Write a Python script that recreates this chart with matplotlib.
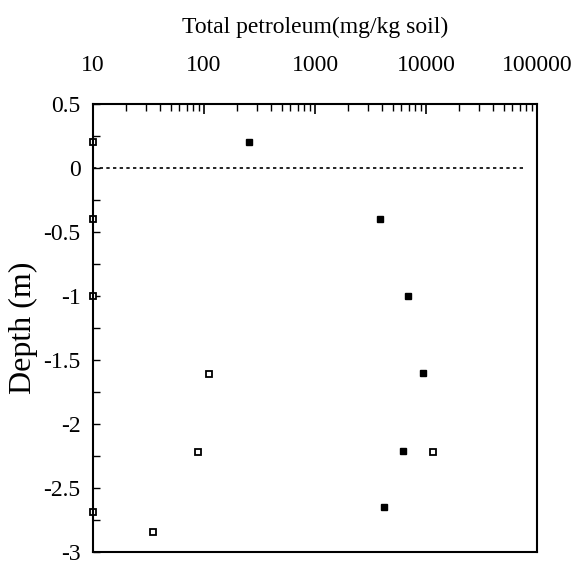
import numpy as np
import matplotlib.pyplot as plt
from matplotlib.ticker import LogLocator, FixedLocator, NullFormatter

plt.rcParams['font.family'] = ['Liberation Serif', 'DejaVu Serif']

# filled squares
filled_x = [254, 3850, 6900, 9400, 6200, 4150]
filled_depth = [0.2, -0.4, -1.0, -1.6, -2.21, -2.65]

# open squares
open_x = [10, 10, 10, 111, 88, 10, 35, 11600]
open_depth = [0.2, -0.4, -1.0, -1.61, -2.22, -2.69, -2.84, -2.22]

xticks = [10, 100, 1000, 10000, 100000]
xtick_labels = ["10", "100", "1000", "10000", "100000"]
yticks = [0.5, 0, -0.5, -1, -1.5, -2, -2.5, -3]
ytick_labels = ["0.5", "0", "-0.5", "-1", "-1.5", "-2", "-2.5", "-3"]

fig = plt.figure(figsize=(5.71, 5.62), dpi=100)
ax = fig.add_axes([93 / 571, 1 - 552 / 562, 444 / 571, 448 / 562])

ax.plot(filled_x, filled_depth, linestyle="none", marker="s", markersize=5,
        color="black", clip_on=False)
ax.plot(open_x, open_depth, linestyle="none", marker="s", markersize=4.5,
        markerfacecolor="white", markeredgecolor="black", markeredgewidth=1.3,
        clip_on=False)

# ground surface
ax.plot([10, 80000], [0, 0], linestyle=(0, (2, 2)), color="black", linewidth=1.2)

ax.set_xscale("log")
ax.set_xlim(10, 100000)
ax.set_ylim(-3, 0.5)

ax.xaxis.tick_top()
ax.xaxis.set_label_position("top")
ax.set_xticks(xticks)
ax.set_xticklabels(xtick_labels)
ax.xaxis.set_minor_locator(LogLocator(base=10, subs=np.arange(2, 10)))
ax.xaxis.set_minor_formatter(NullFormatter())

ax.set_yticks(yticks)
ax.set_yticklabels(ytick_labels)
ax.yaxis.set_minor_locator(FixedLocator(np.arange(-3, 0.5, 0.25)))

ax.tick_params(axis="x", which="major", direction="in", length=7, width=1.2,
               labelsize=17, pad=20)
ax.tick_params(axis="x", which="minor", direction="in", length=5, width=1.0)
ax.tick_params(axis="y", which="both", direction="in", length=5, width=1.0,
               labelsize=17, pad=9, right=False)

for s in ax.spines.values():
    s.set_linewidth(1.5)

ax.set_xlabel("Total petroleum(mg/kg soil)", fontsize=17, labelpad=16)
ax.set_ylabel("Depth (m)", fontsize=23, labelpad=4)

fig.savefig("out.png", dpi=100)
